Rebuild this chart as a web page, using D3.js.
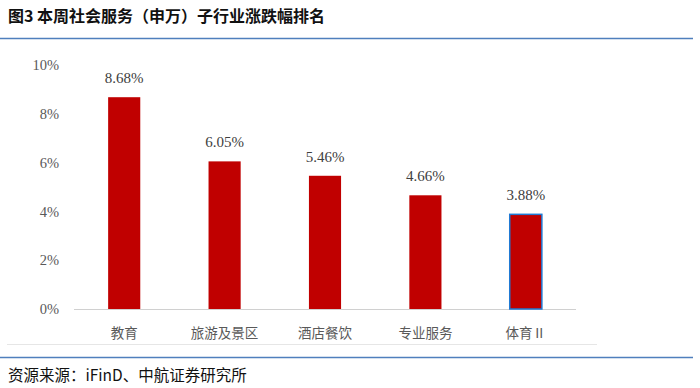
<!DOCTYPE html>
<html><head><meta charset="utf-8">
<script src="https://cdn.jsdelivr.net/npm/d3@7"></script>
<style>body{margin:0;background:#fff;}svg{display:block;}</style>
</head><body>
<script>
const categories = ["教育","旅游及景区","酒店餐饮","专业服务","体育Ⅱ"];
const values = [8.68, 6.05, 5.46, 4.66, 3.88];
const yTicks = [0,2,4,6,8,10];
const titleText = "图3 本周社会服务（申万）子行业涨跌幅排名";
const sourceText = "资源来源：iFinD、中航证券研究所";

const W = 700, H = 388;
const svg = d3.select("body").append("svg").attr("width", W).attr("height", H);
const cjk = "'Noto Sans CJK SC', sans-serif";
const num = "'Liberation Serif', 'DejaVu Serif', serif";

svg.append("text").attr("x", 8).attr("y", 22).text(titleText)
  .attr("font-family", cjk).attr("font-weight", "bold").attr("font-size", 16).attr("fill", "#111");
svg.append("line").attr("x1", 0).attr("x2", 693).attr("y1", 38.5).attr("y2", 38.5)
  .attr("stroke", "#4f7fbd").attr("stroke-width", 1.5);

const x = d3.scaleBand().domain(categories).range([74, 576]).paddingInner(0.68).paddingOuter(0.34);
const y = d3.scaleLinear().domain([0, 10]).range([309, 65]);

const yAxis = svg.append("g").attr("transform", "translate(59,0)")
  .call(d3.axisLeft(y).tickValues(yTicks).tickFormat(d => d + "%").tickSize(0).tickPadding(0));
yAxis.select(".domain").remove();
yAxis.selectAll("text").attr("font-family", num).attr("font-size", 14.5).attr("fill", "#595959");

svg.append("line").attr("x1", 74).attr("x2", 576).attr("y1", y(0) + 0.5).attr("y2", y(0) + 0.5)
  .attr("stroke", "#d0d0d0").attr("stroke-width", 1);

svg.selectAll("rect.bar").data(values).join("rect").attr("class", "bar")
  .attr("x", (d, i) => x(categories[i]))
  .attr("width", x.bandwidth())
  .attr("y", d => y(d))
  .attr("height", d => y(0) - y(d))
  .attr("fill", "#c00000")
  .attr("stroke", (d, i) => i === values.length - 1 ? "#1f7ad4" : "none")
  .attr("stroke-width", 1.5);

svg.selectAll("text.lbl").data(values).join("text").attr("class", "lbl")
  .attr("x", (d, i) => x(categories[i]) + x.bandwidth() / 2)
  .attr("y", d => y(d) - 14)
  .attr("text-anchor", "middle")
  .attr("font-family", num).attr("font-size", 15).attr("fill", "#404040")
  .text(d => d.toFixed(2) + "%");

const xAxis = svg.append("g").attr("transform", `translate(0,${y(0)})`)
  .call(d3.axisBottom(x).tickSize(0).tickPadding(19));
xAxis.select(".domain").remove();
xAxis.selectAll("text").attr("font-family", cjk).attr("font-size", 13.5).attr("fill", "#595959");

svg.append("line").attr("x1", 7).attr("x2", 597).attr("y1", 344.5).attr("y2", 344.5)
  .attr("stroke", "#e6e6e6").attr("stroke-width", 1);
svg.append("line").attr("x1", 0).attr("x2", 693).attr("y1", 357.5).attr("y2", 357.5)
  .attr("stroke", "#4f7fbd").attr("stroke-width", 1.5);
svg.append("text").attr("x", 8).attr("y", 381).text(sourceText)
  .attr("font-family", cjk).attr("font-size", 15.5).attr("fill", "#111");
</script>
</body></html>
